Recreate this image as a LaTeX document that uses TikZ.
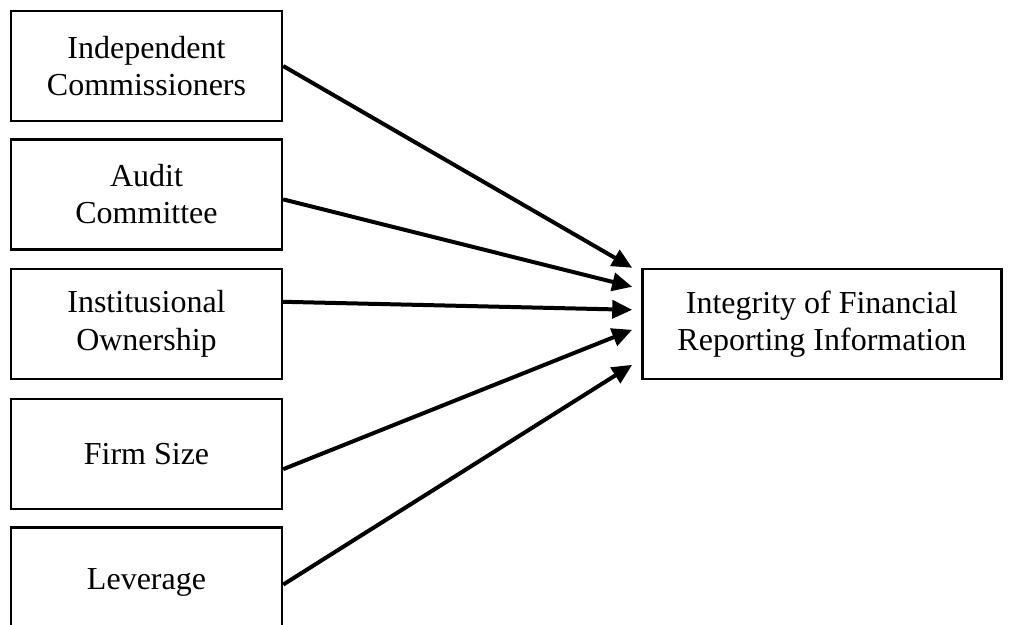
\documentclass[tikz,border=0pt]{standalone}
\usepackage{fontspec}
\setmainfont{Liberation Serif}
\usetikzlibrary{positioning,arrows.meta}

\begin{document}
\begin{tikzpicture}[
        caja/.style={draw, line width=1.2pt, inner sep=0pt, align=center,
                     minimum width=135.5pt, minimum height=55pt,
                     font=\fontsize{16}{18.6}\selectfont},
        flecha/.style={line width=2pt, -{Triangle[length=10pt,width=9pt]}}
    ]
        % Paso 1: Fija el marco de la figura
        \useasboundingbox (0pt,0pt) rectangle (507pt,-312.5pt);

        % Paso 2: Cajas de las variables independientes
        \node[caja] (ic) at (73.25pt,-33pt) {Independent\\Commissioners};
        \node[caja, below=8pt of ic] (ac) {Audit\\Committee};
        \node[caja, below=8.5pt of ac] (io) {Institusional\\Ownership};
        \node[caja, below=9pt of io] (fs) {Firm Size};
        \node[caja, below=8pt of fs] (lev) {Leverage};

        % Paso 3: Caja de la variable dependiente
        \node[caja, minimum width=179.5pt, right=179pt of io] (ifr)
            {Integrity of Financial\\Reporting Information};

        % Paso 4: Puntas de las flechas, a la izquierda de la caja
        \coordinate (p1) at ([xshift=-4.5pt, yshift=28pt]ifr.west);
        \coordinate (p2) at ([xshift=-4.5pt, yshift=18.5pt]ifr.west);
        \coordinate (p3) at ([xshift=-4.5pt, yshift=7pt]ifr.west);
        \coordinate (p4) at ([xshift=-4.5pt, yshift=-3pt]ifr.west);
        \coordinate (p5) at ([xshift=-4.5pt, yshift=-20.5pt]ifr.west);

        % Paso 5: Dibuja las flechas
        \draw[flecha] (ic.east) -- (p1);
        \draw[flecha] ([yshift=-2.5pt]ac.east) -- (p2);
        \draw[flecha] ([yshift=11pt]io.east) -- (p3);
        \draw[flecha] ([yshift=-7.5pt]fs.east) -- (p4);
        \draw[flecha] ([yshift=-1pt]lev.east) -- (p5);
    \end{tikzpicture}
\end{document}
